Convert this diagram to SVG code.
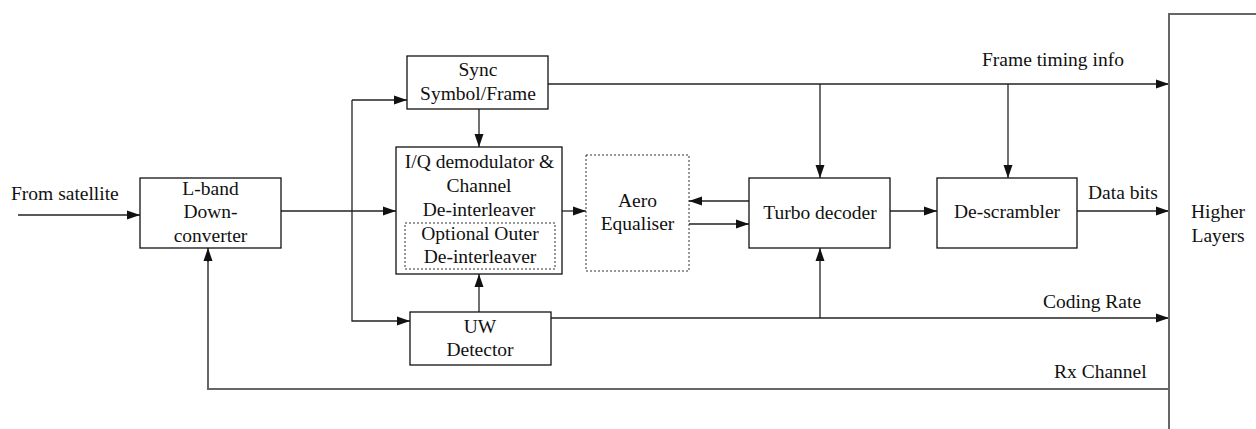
<svg xmlns="http://www.w3.org/2000/svg" width="1256" height="429" viewBox="0 0 1256 429">
<style>
text{font-family:"Liberation Serif","Times New Roman",serif;font-size:19.5px;fill:#111}
.c{text-anchor:middle}
.box{fill:#fff;stroke:#111;stroke-width:1.3}
.dot{fill:none;stroke:#333;stroke-width:1;stroke-dasharray:2,2}
.ln{fill:none;stroke:#222;stroke-width:1.3}
.gr{fill:none;stroke:#666;stroke-width:2}
</style>
<defs>
<marker id="a" markerUnits="userSpaceOnUse" markerWidth="13" markerHeight="10" refX="13" refY="5" orient="auto">
<path d="M0,0.5 L13,5 L0,9.5 Z" fill="#111"/>
</marker>
</defs>
<g id="connectors">
<path class="ln" d="M18,215 H140" marker-end="url(#a)"/>
<path class="ln" d="M281,211 H396" marker-end="url(#a)"/>
<path class="ln" d="M352,100 H407" marker-end="url(#a)"/>
<path class="ln" d="M352,100 V321 H410" marker-end="url(#a)"/>
<path class="ln" d="M479,109 V147" marker-end="url(#a)"/>
<path class="ln" d="M479,312 V274" marker-end="url(#a)"/>
<path class="ln" d="M562,211 H586" marker-end="url(#a)"/>
<path class="ln" d="M749,201 H689" marker-end="url(#a)"/>
<path class="ln" d="M689,224 H749" marker-end="url(#a)"/>
<path class="ln" d="M548,84 H1169" marker-end="url(#a)"/>
<path class="ln" d="M820,84 V178" marker-end="url(#a)"/>
<path class="ln" d="M1008,84 V178" marker-end="url(#a)"/>
<path class="ln" d="M890,211 H937" marker-end="url(#a)"/>
<path class="ln" d="M1077,211 H1169" marker-end="url(#a)"/>
<path class="ln" d="M551,318 H1169" marker-end="url(#a)"/>
<path class="ln" d="M820,318 V248" marker-end="url(#a)"/>
<path class="gr" d="M1169,389 H208 V258"/>
<path class="ln" d="M208,262 V248" marker-end="url(#a)"/>
</g>
<g id="lband">
<rect class="box" x="140" y="178" width="141" height="70"/>
<text class="c" x="210.5" y="195">L-band</text>
<text class="c" x="210.5" y="218">Down-</text>
<text class="c" x="210.5" y="242">converter</text>
</g>
<g id="sync">
<rect class="box" x="407" y="56" width="141" height="53"/>
<text class="c" x="478" y="76">Sync</text>
<text class="c" x="478" y="100">Symbol/Frame</text>
</g>
<g id="iq">
<rect class="box" x="396" y="147" width="166" height="127"/>
<text class="c" x="479.5" y="168">I/Q demodulator &amp;</text>
<text class="c" x="479" y="192">Channel</text>
<text class="c" x="479" y="216">De-interleaver</text>
</g>
<g id="outer">
<rect class="dot" x="405" y="223" width="150" height="46"/>
<text class="c" x="480" y="240">Optional Outer</text>
<text class="c" x="480" y="263">De-interleaver</text>
</g>
<g id="aero">
<rect class="dot" x="586" y="155" width="103" height="116"/>
<text class="c" x="637.5" y="207">Aero</text>
<text class="c" x="637.5" y="230">Equaliser</text>
</g>
<g id="uw">
<rect class="box" x="410" y="312" width="141" height="53"/>
<text class="c" x="480" y="333">UW</text>
<text class="c" x="480" y="356">Detector</text>
</g>
<g id="turbo">
<rect class="box" x="749" y="178" width="141" height="70"/>
<text class="c" x="820" y="219">Turbo decoder</text>
</g>
<g id="descrambler">
<rect class="box" x="937" y="178" width="140" height="70"/>
<text class="c" x="1007" y="218">De-scrambler</text>
</g>
<g id="higher">
<rect class="gr" x="1169" y="14" width="120" height="430"/>
<text class="c" x="1218" y="218">Higher</text>
<text class="c" x="1218" y="242">Layers</text>
</g>
<g id="labels">
<text x="11" y="200">From satellite</text>
<text x="982" y="66">Frame timing info</text>
<text x="1088" y="199">Data bits</text>
<text x="1043" y="308">Coding Rate</text>
<text x="1054" y="378">Rx Channel</text>
</g>
</svg>
